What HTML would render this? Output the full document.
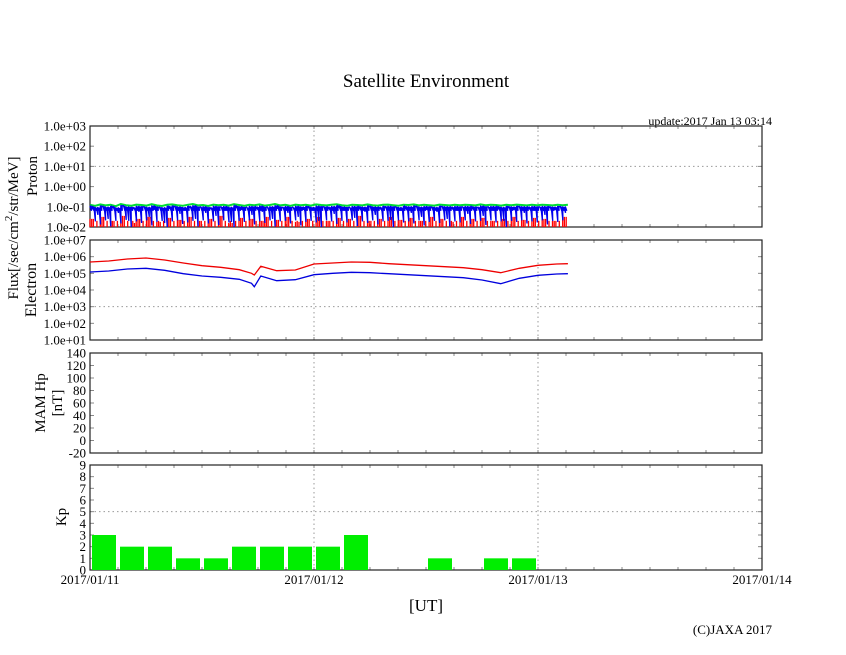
<!DOCTYPE html>
<html><head><meta charset="utf-8">
<style>
html,body{margin:0;padding:0;background:#fff;}
svg{display:block;font-family:"Liberation Serif",serif;}
</style></head>
<body>
<svg id="chart" width="846" height="655" viewBox="0 0 846 655" xmlns="http://www.w3.org/2000/svg">
<text x="426" y="87" font-size="19" text-anchor="middle">Satellite Environment</text>
<text x="772" y="125" font-size="12" text-anchor="end">update:2017 Jan 13 03:14</text>
<text transform="translate(18,228) rotate(-90)" font-size="15" text-anchor="middle">Flux[/sec/cm<tspan dy="-6" font-size="11">2</tspan><tspan dy="6">/str/MeV]</tspan></text>
<text transform="translate(37,176) rotate(-90)" font-size="15" text-anchor="middle">Proton</text>
<text transform="translate(36,290) rotate(-90)" font-size="16" text-anchor="middle">Electron</text>
<text transform="translate(45,403) rotate(-90)" font-size="15" text-anchor="middle">MAM Hp</text>
<text transform="translate(62,403) rotate(-90)" font-size="15" text-anchor="middle">[nT]</text>
<text transform="translate(66,517) rotate(-90)" font-size="15" text-anchor="middle">Kp</text>
<text x="426" y="611" font-size="17" text-anchor="middle">[UT]</text>
<text x="772" y="634" font-size="13" text-anchor="end">(C)JAXA 2017</text>
<g id="plots"></g>
</svg>
<script>
// ---- data ----
const xTickLabels = ["2017/01/11","2017/01/12","2017/01/13","2017/01/14"];
const protonTicks = ["1.0e-02","1.0e-01","1.0e+00","1.0e+01","1.0e+02","1.0e+03"];
const electronTicks = ["1.0e+01","1.0e+02","1.0e+03","1.0e+04","1.0e+05","1.0e+06","1.0e+07"];
const mamTicks = [-20,0,20,40,60,80,100,120,140];
const kpTicks = [0,1,2,3,4,5,6,7,8,9];
// Kp per 3-hour interval from 2017/01/11 00UT
const kpValues = [3,2,2,1,1,2,2,2,2,3,0,0,1,0,1,1];
// electron flux (log10)
const electronHours = [0,2,4,6,8,10,12,14,16,17.3,17.6,18.3,20,22,24,26,28,30,32,34,36,38,40,42,44,46,48,50,51.2];
const electronRed  = [5.68,5.74,5.86,5.92,5.80,5.62,5.46,5.36,5.22,5.00,4.90,5.42,5.16,5.20,5.56,5.62,5.68,5.66,5.58,5.52,5.46,5.40,5.34,5.22,5.04,5.30,5.48,5.56,5.58];
const electronBlue = [5.08,5.14,5.26,5.30,5.18,4.98,4.84,4.76,4.64,4.40,4.20,4.84,4.56,4.62,4.92,5.00,5.06,5.04,4.98,4.92,4.86,4.80,4.74,4.60,4.38,4.70,4.88,4.96,4.98];
// proton flux samples (log10)
const protonGreen = [-0.9,-0.95,-0.88,-0.93,-0.9,-0.97,-0.86,-0.92,-0.95,-0.89,-0.91,-0.94,-0.87,-0.93,-0.96,-0.9,-0.88,-0.92,-0.95,-0.9,-0.86,-0.93,-0.91,-0.96,-0.89,-0.92,-0.9,-0.94,-0.87,-0.91,-0.95,-0.9,-0.92,-0.88,-0.94,-0.91,-0.86,-0.93,-0.9,-0.95,-0.89,-0.92,-0.9,-0.94,-0.88,-0.91,-0.93,-0.9,-0.87,-0.92,-0.95,-0.9,-0.91,-0.93,-0.88,-0.92,-0.94,-0.9,-0.89,-0.92,-0.95,-0.9,-0.91,-0.88,-0.93,-0.9,-0.92,-0.94,-0.89,-0.91,-0.93,-0.9,-0.92,-0.9,-0.91,-0.93,-0.88,-0.92,-0.9,-0.91,-0.94,-0.9,-0.92,-0.89,-0.91,-0.93,-0.9,-0.92,-0.9,-0.91,-0.93,-0.9,-0.92,-0.9];
const protonBlue = [-1.1,-1.4,-1.0,-1.6,-1.05,-1.3,-0.95,-1.7,-1.1,-1.25,-1.0,-1.5,-1.15,-1.05,-1.8,-1.1,-1.0,-1.35,-1.2,-1.05,-1.6,-1.0,-1.3,-1.1,-1.45,-1.0,-1.2,-1.75,-1.05,-1.15,-1.0,-1.4,-1.1,-1.25,-1.0,-1.6,-1.1,-1.05,-1.3,-1.0,-1.5,-1.15,-1.05,-1.2,-1.7,-1.0,-1.1,-1.35,-1.05,-1.2,-1.0,-1.55,-1.1,-1.25,-1.0,-1.4,-1.1,-1.05,-1.65,-1.0,-1.2,-1.1,-1.3,-1.0,-1.5,-1.15,-1.05,-1.25,-1.0,-1.6,-1.1,-1.2,-1.0,-1.35,-1.1,-1.05,-1.45,-1.0,-1.2,-1.1,-1.7,-1.05,-1.15,-1.0,-1.3,-1.1,-1.2,-1.0,-1.4,-1.05,-1.15,-1.0,-1.3,-1.1];
const protonRed = [-1.6,-2.0,-1.5,-2.0,-1.7,-2.0,-1.45,-2.0,-1.8,-1.6,-2.0,-1.5,-2.0,-1.75,-2.0,-1.55,-2.0,-1.65,-2.0,-1.5,-2.0,-1.7,-2.0,-1.6,-2.0,-1.45,-2.0,-1.8,-2.0,-1.55,-2.0,-1.6,-2.0,-1.7,-1.5,-2.0,-1.65,-2.0,-1.5,-2.0,-1.75,-2.0,-1.6,-2.0,-1.5,-2.0,-1.7,-2.0,-1.55,-2.0,-1.6,-2.0,-1.45,-2.0,-1.7,-2.0,-1.6,-2.0,-1.5,-2.0,-1.65,-2.0,-1.55,-2.0,-1.7,-2.0,-1.5,-2.0,-1.6,-2.0,-1.75,-2.0,-1.5,-2.0,-1.6,-2.0,-1.55,-2.0,-1.7,-2.0,-1.6,-2.0,-1.5,-2.0,-1.65,-2.0,-1.55,-2.0,-1.6,-2.0,-1.7,-2.0,-1.5,-2.0];
const protonEndHour = 51.2;

// ---- layout ----
const NS = "http://www.w3.org/2000/svg";
const root = document.getElementById("plots");
const X0 = 90, X1 = 762, HOURS = 72;
const xScale = h => X0 + (X1 - X0) * h / HOURS;
const panels = {
  proton: {top:126, bot:227, min:-2, max:3},
  electron: {top:240, bot:340, min:1, max:7},
  mam: {top:353, bot:453, min:-20, max:140},
  kp: {top:465, bot:570, min:0, max:9}
};
const yScale = (p, v) => p.bot - (Math.max(p.min, Math.min(p.max, v)) - p.min) / (p.max - p.min) * (p.bot - p.top);

function mk(tag, attrs, parent) {
  const e = document.createElementNS(NS, tag);
  for (const k in attrs) e.setAttribute(k, attrs[k]);
  (parent || root).appendChild(e);
  return e;
}

function drawFrame(name, p, tickVals, tickLabels, gridVals) {
  const g = mk("g", {});
  
  
  [24, 48].forEach(h => {
    const l = mk("line", {x1:xScale(h), x2:xScale(h), y1:p.top, y2:p.bot, stroke:"#999", "stroke-dasharray":"1.5,3", "stroke-width":1}, g);
    
    
  });
  gridVals.forEach(v => {
    const l = mk("line", {x1:X0, x2:X1, y1:yScale(p, v), y2:yScale(p, v), stroke:"#999", "stroke-dasharray":"1.5,3", "stroke-width":1}, g);
    
    
  });
  for (let h = 3; h < HOURS; h += 3) {
    mk("line", {x1:xScale(h), x2:xScale(h), y1:p.top, y2:p.top + 3, stroke:"#888"}, g);
    mk("line", {x1:xScale(h), x2:xScale(h), y1:p.bot, y2:p.bot - 3, stroke:"#888"}, g);
  }
  tickVals.forEach((v, i) => {
    const y = yScale(p, v);
    mk("line", {x1:X0, x2:X0 + 4, y1:y, y2:y, stroke:"#888"}, g);
    mk("line", {x1:X1, x2:X1 - 4, y1:y, y2:y, stroke:"#888"}, g);
    const t = mk("text", {x:X0 - 4, y:y + 4.5, "font-size":13, "text-anchor":"end"}, g);
    t.textContent = tickLabels[i];
    
    
  });
  const r = mk("rect", {x:X0, y:p.top, width:X1 - X0, height:p.bot - p.top, fill:"none", stroke:"#222", "stroke-width":1.2}, g);
  
  
  return g;
}

// proton
const pp = panels.proton;
const gp = drawFrame("proton", pp, [-2,-1,0,1,2,3], protonTicks, [1]);
const pStep = protonEndHour / (protonBlue.length - 1);
const xEnd = xScale(protonEndHour);
// red spikes
(function(){
  let d = "";
  protonRed.forEach((v, i) => {
    for (let k = 0; k < 3; k++) {
      const x = xScale(i * pStep + k * pStep / 3);
      if (x > xEnd) continue;
      const val = k === 1 ? Math.max(v, -1.7) : v;
      d += "M" + x.toFixed(1) + "," + yScale(pp, -2) + "L" + x.toFixed(1) + "," + yScale(pp, val).toFixed(1);
    }
  });
  const el = mk("path", {d:d, fill:"none", stroke:"#ff0000", "stroke-width":1.3}, gp);
  
  
})();
// green line
(function(){
  let d = "";
  protonGreen.forEach((v, i) => { d += (i ? "L" : "M") + xScale(i * pStep).toFixed(1) + "," + yScale(pp, v).toFixed(1); });
  const el = mk("path", {d:d, fill:"none", stroke:"#00dd33", "stroke-width":2}, gp);
  
  
})();
// blue band with spikes
(function(){
  let d = "";
  let first = true;
  protonBlue.forEach((v, i) => {
    const top = protonGreen[i] - 0.06;
    for (let k = 0; k < 4; k++) {
      const x = xScale(i * pStep + k * pStep / 4);
      if (x + 1.5 > xEnd) continue;
      const low = k === 1 ? v : (k === 3 ? (v - 1.15) / 2 - 0.6 : -1.2);
      d += (first ? "M" : "L") + x.toFixed(1) + "," + yScale(pp, top - (k % 2) * 0.03).toFixed(1);
      first = false;
      d += "L" + (x + 1.5).toFixed(1) + "," + yScale(pp, low).toFixed(1);
    }
  });
  const el = mk("path", {d:d, fill:"none", stroke:"#0000ee", "stroke-width":1.3}, gp);
  
  
})();

// electron
const pe = panels.electron;
const ge = drawFrame("electron", pe, [1,2,3,4,5,6,7], electronTicks, [3]);
function elecLine(arr, color, name) {
  let d = "";
  arr.forEach((v, i) => { d += (i ? "L" : "M") + xScale(electronHours[i]).toFixed(1) + "," + yScale(pe, v).toFixed(1); });
  const el = mk("path", {d:d, fill:"none", stroke:color, "stroke-width":1.3}, ge);
  
  
}
elecLine(electronRed, "#ee0000", "electron-red-series");
elecLine(electronBlue, "#0000dd", "electron-blue-series");

// MAM
const pm = panels.mam;
drawFrame("mam", pm, mamTicks, mamTicks.map(String), []);

// Kp
const pk = panels.kp;
const gk = drawFrame("kp", pk, kpTicks, kpTicks.map(String), [5]);
kpValues.forEach((v, i) => {
  if (v <= 0) return;
  const x0 = xScale(i * 3) + 2, x1 = xScale(i * 3 + 3) - 2;
  const b = mk("rect", {x:x0, y:yScale(pk, v), width:x1 - x0, height:yScale(pk, 0) - yScale(pk, v), fill:"#00ee00"}, gk);
  
  
});
xTickLabels.forEach((s, i) => {
  const t = mk("text", {x:xScale(i * 24), y:584, "font-size":13, "text-anchor":"middle"});
  t.textContent = s;
  
  
});
</script>
</body></html>
